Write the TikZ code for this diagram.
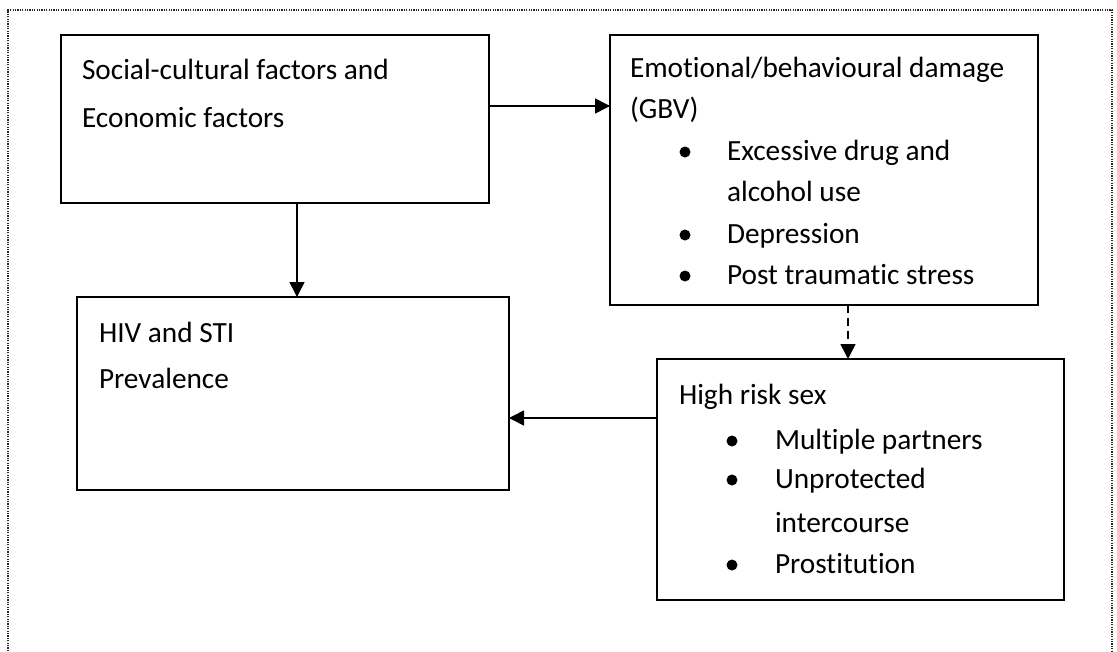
\documentclass[tikz,border=0pt]{standalone}
\usepackage{fontspec}
\setmainfont{Carlito}[Ligatures={NoCommon}]
\usetikzlibrary{arrows.meta}
\tikzset{
  box/.style={draw=black, line width=2pt, rectangle, anchor=north west, inner sep=0pt, outer sep=0pt},
  txt/.style={anchor=base west, inner sep=0pt, outer sep=0pt, font=\fontsize{29.3pt}{35pt}\selectfont},
  arr/.style={line width=1.6pt, -{Triangle[length=15pt,width=15pt]}},
  darr/.style={arr, dash pattern=on 8pt off 5pt},
  outer/.style={line width=1.4pt, black!85, dash pattern=on 1.2pt off 1.2pt},
}
\begin{document}
\begin{tikzpicture}[x=1pt,y=-1pt]
\useasboundingbox (0,0) rectangle (1117,651);
\draw[outer] (8,651) -- (8,10) -- (1112,10) -- (1112,651);

% boxes
\node[box, minimum width=428pt, minimum height=168pt] (b1) at (61,35) {};
\node[box, minimum width=428pt, minimum height=270pt] (b2) at (610,35) {};
\node[box, minimum width=432pt, minimum height=193pt] (b3) at (77,297) {};
\node[box, minimum width=407pt, minimum height=241pt] (b4) at (657,359) {};

% box 1 text
\node[txt] (t11) at (82,79) {Social-cultural factors and};
\node[txt] (t12) at (82,127) {Economic factors};

% box 2 text
\node[txt] (t21) at (630,77) {Emotional/behavioural damage};
\node[txt] (t22) at (630,118) {(GBV)};
\node[txt] (t23) at (727,160) {Excessive drug and};
\node[txt] (t24) at (727,201) {alcohol use};
\node[txt] (t25) at (727,243) {Depression};
\node[txt] (t26) at (727,284) {Post traumatic stress};
\fill (685,152) circle (5.5);
\fill (685,235) circle (5.5);
\fill (685,276) circle (5.5);

% box 3 text
\node[txt] (t31) at (99,342) {HIV and STI};
\node[txt] (t32) at (99,388) {Prevalence};

% box 4 text
\node[txt] (t41) at (679,404) {High risk sex};
\node[txt] (t42) at (775,449) {Multiple partners};
\node[txt] (t43) at (775,488) {Unprotected};
\node[txt] (t44) at (775,532) {intercourse};
\node[txt] (t45) at (775,573) {Prostitution};
\fill (732,441) circle (5.5);
\fill (732,480) circle (5.5);
\fill (732,565) circle (5.5);

% connectors
\draw[arr] ([yshift=-71pt]b1.north east) -- ([yshift=-71pt]b2.north west);
\draw[arr] ([xshift=236pt]b1.south west) -- ([xshift=220pt]b3.north west);
\draw[darr] ([xshift=238pt]b2.south west) -- ([xshift=191pt]b4.north west);
\draw[arr] ([yshift=-59pt]b4.north west) -- ([yshift=-121pt]b3.north east);
\end{tikzpicture}
\end{document}
